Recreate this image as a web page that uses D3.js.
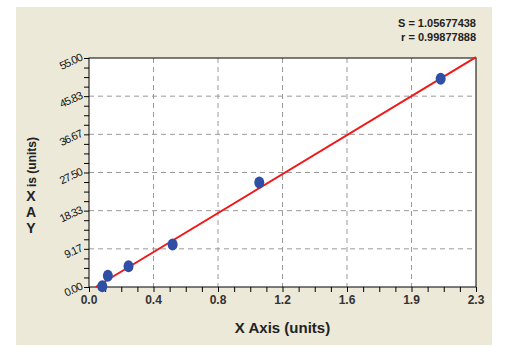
<!DOCTYPE html>
<html>
<head>
<meta charset="utf-8">
<script src="https://cdn.jsdelivr.net/npm/d3@7"></script>
<style>
  body { margin: 0; background: #fff; }
  text { font-family: Arial, "Liberation Sans", sans-serif; }
</style>
</head>
<body>
<svg width="509" height="353"></svg>
<script>
// measured points (x = OD, y = concentration)
var pointX = [0.079, 0.112, 0.235, 0.497, 1.012, 2.090];
var pointY = [0.2, 2.7, 5.0, 10.2, 25.1, 50.0];

// fitted line, two ends
var fitX = [0.04, 2.3];
var fitY = [0.0, 55.2];

var xTickLabels = ["0.0", "0.4", "0.8", "1.2", "1.6", "1.9", "2.3"];
var yTickLabels = ["0.00", "9.17", "18.33", "27.50", "36.67", "45.83", "55.00"];
var statLines = ["S = 1.05677438", "r = 0.99877888"];

var svg = d3.select("svg");

// plot box
var pLeft = 89, pRight = 476, pTop = 58, pBottom = 287;

var x = d3.scaleLinear().domain([0, 2.3]).range([pLeft, pRight]);
var y = d3.scaleLinear().domain([0, 55]).range([pBottom, pTop]);

var xMajor = d3.range(7).map(i => i * 2.3 / 6);
var yMajor = d3.range(7).map(i => i * 55 / 6);
var xMinor = d3.range(25).map(i => i * 2.3 / 24);
var yMinor = d3.range(25).map(i => i * 55 / 24);

// beige panel
svg.append("rect")
  .attr("x", 16).attr("y", 7)
  .attr("width", 476).attr("height", 338)
  .attr("fill", "#ece9d8");

svg.append("rect")
  .attr("x", pLeft).attr("y", pTop)
  .attr("width", pRight - pLeft).attr("height", pBottom - pTop)
  .attr("fill", "#fff");

// grid
var grid = svg.append("g").attr("stroke", "#9a9a9a").attr("stroke-dasharray", "5,4");
grid.selectAll("line.v")
  .data(xMajor.slice(1, -1))
  .enter().append("line")
  .attr("class", "v")
  .attr("x1", d => x(d)).attr("x2", d => x(d))
  .attr("y1", pTop).attr("y2", pBottom);
grid.selectAll("line.h")
  .data(yMajor.slice(1, -1))
  .enter().append("line")
  .attr("class", "h")
  .attr("x1", pLeft).attr("x2", pRight)
  .attr("y1", d => y(d)).attr("y2", d => y(d));

// x axis
var xAxis = svg.append("g")
  .attr("transform", "translate(0," + pBottom + ")")
  .call(d3.axisBottom(x).tickValues(xMinor).tickSize(5).tickFormat(""));
xAxis.select(".domain").remove();

svg.append("g")
  .selectAll("text")
  .data(xMajor)
  .enter().append("text")
  .attr("x", d => x(d))
  .attr("y", 304)
  .attr("text-anchor", "middle")
  .attr("font-size", 12)
  .attr("font-weight", "bold")
  .attr("fill", "#333")
  .text((d, i) => xTickLabels[i]);

// y axis
var yAxis = svg.append("g")
  .attr("transform", "translate(" + pLeft + ",0)")
  .call(d3.axisLeft(y).tickValues(yMinor).tickSize(5).tickFormat(""));
yAxis.select(".domain").remove();

svg.append("g")
  .selectAll("text")
  .data(yMajor)
  .enter().append("text")
  .attr("transform", d => "translate(83," + (y(d) + 2) + ") rotate(-25)")
  .attr("text-anchor", "end")
  .attr("font-size", 11)
  .attr("letter-spacing", -0.8)
  .attr("fill", "#111")
  .text((d, i) => yTickLabels[i]);

// frame
svg.append("rect")
  .attr("x", pLeft).attr("y", pTop)
  .attr("width", pRight - pLeft).attr("height", pBottom - pTop)
  .attr("fill", "none")
  .attr("stroke", "#000");

// fit line
var line = d3.line().x(d => x(d[0])).y(d => y(d[1]));
svg.append("path")
  .datum(fitX.map((v, i) => [v, fitY[i]]))
  .attr("d", line)
  .attr("stroke", "#f01818")
  .attr("stroke-width", 2)
  .attr("fill", "none");

// points
svg.append("g")
  .selectAll("ellipse")
  .data(pointX.map((v, i) => [v, pointY[i]]))
  .enter().append("ellipse")
  .attr("cx", d => x(d[0]))
  .attr("cy", d => y(d[1]))
  .attr("rx", 5)
  .attr("ry", 6)
  .attr("fill", "#2f4fa6");

// stats
svg.append("g")
  .selectAll("text")
  .data(statLines)
  .enter().append("text")
  .attr("x", 476)
  .attr("y", (d, i) => 27 + i * 14)
  .attr("text-anchor", "end")
  .attr("font-size", 11)
  .attr("font-weight", "bold")
  .attr("fill", "#222")
  .text(d => d);

// axis titles
svg.append("text")
  .attr("x", (pLeft + pRight) / 2)
  .attr("y", 333)
  .attr("text-anchor", "middle")
  .attr("font-size", 15)
  .attr("font-weight", "bold")
  .attr("fill", "#222")
  .text("X Axis (units)");

var yTitle = "Y Axis (units)";
var yt = svg.append("g").attr("fill", "#222").attr("font-size", 14).attr("font-weight", "bold");
["Y", "A", "X"].forEach(function (ch, i) {
  yt.append("text")
    .attr("x", 31).attr("y", 233 - i * 16)
    .attr("text-anchor", "middle")
    .text(ch);
});
yt.append("text")
  .attr("transform", "translate(36,187) rotate(-90)")
  .attr("font-size", 12)
  .text(yTitle.slice(4));
</script>
</body>
</html>
